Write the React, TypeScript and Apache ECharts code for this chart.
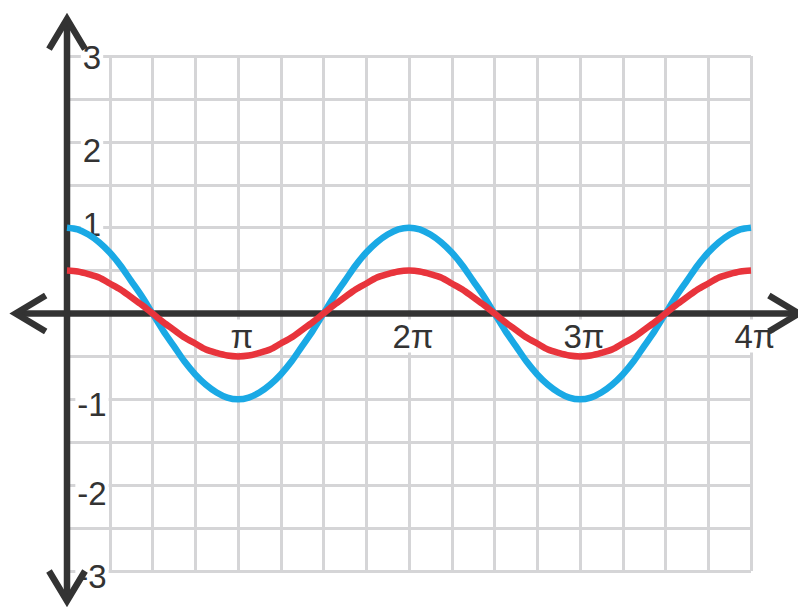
import React, { useEffect, useRef } from "react";
import * as echarts from "echarts";

// x positions in units of π (step π/16)
const X_PI = [
  0, 0.0625, 0.125, 0.1875, 0.25, 0.3125, 0.375, 0.4375, 0.5, 0.5625, 0.625, 0.6875, 0.75, 0.8125, 0.875, 0.9375,
  1, 1.0625, 1.125, 1.1875, 1.25, 1.3125, 1.375, 1.4375, 1.5, 1.5625, 1.625, 1.6875, 1.75, 1.8125, 1.875, 1.9375,
  2, 2.0625, 2.125, 2.1875, 2.25, 2.3125, 2.375, 2.4375, 2.5, 2.5625, 2.625, 2.6875, 2.75, 2.8125, 2.875, 2.9375,
  3, 3.0625, 3.125, 3.1875, 3.25, 3.3125, 3.375, 3.4375, 3.5, 3.5625, 3.625, 3.6875, 3.75, 3.8125, 3.875, 3.9375,
  4,
];
// blue curve (amplitude 1)
const BLUE_VALUES = [
  1, 0.98, 0.92, 0.83, 0.71, 0.56, 0.38, 0.2, 0, -0.2, -0.38, -0.56, -0.71, -0.83, -0.92, -0.98,
  -1, -0.98, -0.92, -0.83, -0.71, -0.56, -0.38, -0.2, 0, 0.2, 0.38, 0.56, 0.71, 0.83, 0.92, 0.98,
  1, 0.98, 0.92, 0.83, 0.71, 0.56, 0.38, 0.2, 0, -0.2, -0.38, -0.56, -0.71, -0.83, -0.92, -0.98,
  -1, -0.98, -0.92, -0.83, -0.71, -0.56, -0.38, -0.2, 0, 0.2, 0.38, 0.56, 0.71, 0.83, 0.92, 0.98,
  1,
];
// red curve (amplitude 0.5)
const RED_VALUES = [
  0.5, 0.49, 0.46, 0.42, 0.35, 0.28, 0.19, 0.1, 0, -0.1, -0.19, -0.28, -0.35, -0.42, -0.46, -0.49,
  -0.5, -0.49, -0.46, -0.42, -0.35, -0.28, -0.19, -0.1, 0, 0.1, 0.19, 0.28, 0.35, 0.42, 0.46, 0.49,
  0.5, 0.49, 0.46, 0.42, 0.35, 0.28, 0.19, 0.1, 0, -0.1, -0.19, -0.28, -0.35, -0.42, -0.46, -0.49,
  -0.5, -0.49, -0.46, -0.42, -0.35, -0.28, -0.19, -0.1, 0, 0.1, 0.19, 0.28, 0.35, 0.42, 0.46, 0.49,
  0.5,
];

const X_MIN = 0;
const X_MAX = 4;
const Y_MIN = -3;
const Y_MAX = 3;
const X_TICK_LABELS: Record<number, string> = { 1: "π", 2: "2π", 3: "3π", 4: "4π" };
const Y_TICK_LABELS: Record<number, string> = { 3: "3", 2: "2", 1: "1", [-1]: "-1", [-2]: "-2", [-3]: "-3" };

// drawn axis lines extend past the grid (data units)
const AXIS_X_EXTENT = [-0.3, 4.28];
const AXIS_Y_EXTENT = [-3.35, 3.43];

const AXIS_COLOR = "#333333";
const GRID_COLOR = "#d5d5d7";
const BLUE = "#1aa9e5";
const RED = "#e8343c";
const FONT = "Liberation Sans";
const LABEL_SIZE = 33;

const CHART_W = 798;
const CHART_H = 610;
const GRID = { left: 67, right: 47, top: 56, bottom: 39 };

// per-label vertical nudge (px, positive = down)
const Y_LABEL_SHIFT: Record<string, number> = { "3": 1, "2": 9, "1": -3, "-1": 5, "-2": 8, "-3": 5 };

export default function App() {
  const ref = useRef<HTMLDivElement>(null);

  useEffect(() => {
    if (!ref.current) return;
    const chart = echarts.init(ref.current, null, { renderer: "svg" });

    const rich: Record<string, any> = {};
    Object.keys(Y_TICK_LABELS).forEach((k) => {
      const lab = Y_TICK_LABELS[Number(k)];
      const d = Y_LABEL_SHIFT[lab] || 0;
      rich["y" + (Number(k) + 3)] = {
        fontFamily: FONT,
        fontSize: LABEL_SIZE,
        color: AXIS_COLOR,
        backgroundColor: "#ffffff",
        padding: [Math.max(0, 2 * d) + 1, 2, Math.max(0, -2 * d) + 1, 2],
      };
    });

    const blueData = X_PI.map((x, i) => [x, BLUE_VALUES[i]]);
    const redData = X_PI.map((x, i) => [x, RED_VALUES[i]]);

    // move the labelled x axis from the grid bottom up to y = 0
    const gridH = CHART_H - GRID.top - GRID.bottom;
    const zeroOffset = -gridH * ((0 - Y_MIN) / (Y_MAX - Y_MIN));

    const option: any = {
      animation: false,
      backgroundColor: "#ffffff",
      grid: { ...GRID, containLabel: false },
      xAxis: [
        {
          type: "value",
          position: "bottom",
          offset: zeroOffset,
          min: X_MIN,
          max: X_MAX,
          interval: 1,
          z: 1,
          axisLine: { show: false, onZero: false },
          axisTick: { show: false },
          splitLine: { show: false },
          axisLabel: {
            showMinLabel: false,
            margin: 6,
            fontFamily: FONT,
            fontSize: LABEL_SIZE,
            color: AXIS_COLOR,
            backgroundColor: "#ffffff",
            padding: [0, 2, 0, 10],
            formatter: (v: number) => X_TICK_LABELS[Math.round(v)] || "",
          },
        },
        {
          type: "value",
          position: "top",
          min: X_MIN,
          max: X_MAX,
          interval: 0.25,
          z: 0,
          axisLine: { show: false, onZero: false },
          axisTick: { show: false },
          axisLabel: { show: false },
          splitLine: { show: true, lineStyle: { color: GRID_COLOR, width: 3 } },
        },
      ],
      yAxis: [
        {
          type: "value",
          min: Y_MIN,
          max: Y_MAX,
          interval: 1,
          z: 1,
          axisLine: { show: false, onZero: false },
          axisTick: { show: false },
          splitLine: { show: false },
          axisLabel: {
            inside: true,
            align: "center",
            margin: 25,
            formatter: (v: number) => {
              const r = Math.round(v);
              const lab = Y_TICK_LABELS[r];
              return lab ? "{y" + (r + 3) + "|" + lab + "}" : "";
            },
            rich,
          },
        },
        {
          type: "value",
          min: Y_MIN,
          max: Y_MAX,
          interval: 0.5,
          z: 0,
          axisLine: { show: false, onZero: false },
          axisTick: { show: false },
          axisLabel: { show: false },
          splitLine: { show: true, lineStyle: { color: GRID_COLOR, width: 3 } },
        },
      ],
      series: [
        {
          type: "custom",
          coordinateSystem: "cartesian2d",
          xAxisIndex: 0,
          yAxisIndex: 0,
          clip: false,
          silent: true,
          z: 2,
          data: [[0, 0]],
          renderItem: (_params: any, api: any) => {
            const l = api.coord([AXIS_X_EXTENT[0], 0]);
            const r = api.coord([AXIS_X_EXTENT[1], 0]);
            const t = api.coord([0, AXIS_Y_EXTENT[1]]);
            const b = api.coord([0, AXIS_Y_EXTENT[0]]);
            const style = {
              stroke: AXIS_COLOR,
              lineWidth: 6.5,
              fill: null,
              lineJoin: "miter",
              lineCap: "butt",
            };
            const A = 30;
            const W = 18;
            return {
              type: "group",
              children: [
                { type: "line", shape: { x1: l[0] + 4, y1: l[1], x2: r[0] - 4, y2: r[1] }, style },
                { type: "line", shape: { x1: t[0], y1: t[1] + 4, x2: b[0], y2: b[1] - 4 }, style },
                {
                  type: "polyline",
                  shape: { points: [[l[0] + A, l[1] - W], [l[0], l[1]], [l[0] + A, l[1] + W]] },
                  style,
                },
                {
                  type: "polyline",
                  shape: { points: [[r[0] - A, r[1] - W], [r[0], r[1]], [r[0] - A, r[1] + W]] },
                  style,
                },
                {
                  type: "polyline",
                  shape: { points: [[t[0] - W, t[1] + A], [t[0], t[1]], [t[0] + W, t[1] + A]] },
                  style,
                },
                {
                  type: "polyline",
                  shape: { points: [[b[0] - W, b[1] - A], [b[0], b[1]], [b[0] + W, b[1] - A]] },
                  style,
                },
              ],
            };
          },
        },
        {
          type: "line",
          name: "blue",
          xAxisIndex: 0,
          yAxisIndex: 0,
          data: blueData,
          smooth: 0.3,
          showSymbol: false,
          symbol: "none",
          z: 3,
          lineStyle: { color: BLUE, width: 6.5 },
        },
        {
          type: "line",
          name: "red",
          xAxisIndex: 0,
          yAxisIndex: 0,
          data: redData,
          smooth: 0.3,
          showSymbol: false,
          symbol: "none",
          z: 4,
          lineStyle: { color: RED, width: 6.5 },
        },
      ],
    };

    chart.setOption(option);
    return () => chart.dispose();
  }, []);

  return (
    <div
      ref={ref}
      style={{ position: "fixed", left: 0, top: 0, width: CHART_W, height: CHART_H, background: "#fff" }}
    />
  );
}
